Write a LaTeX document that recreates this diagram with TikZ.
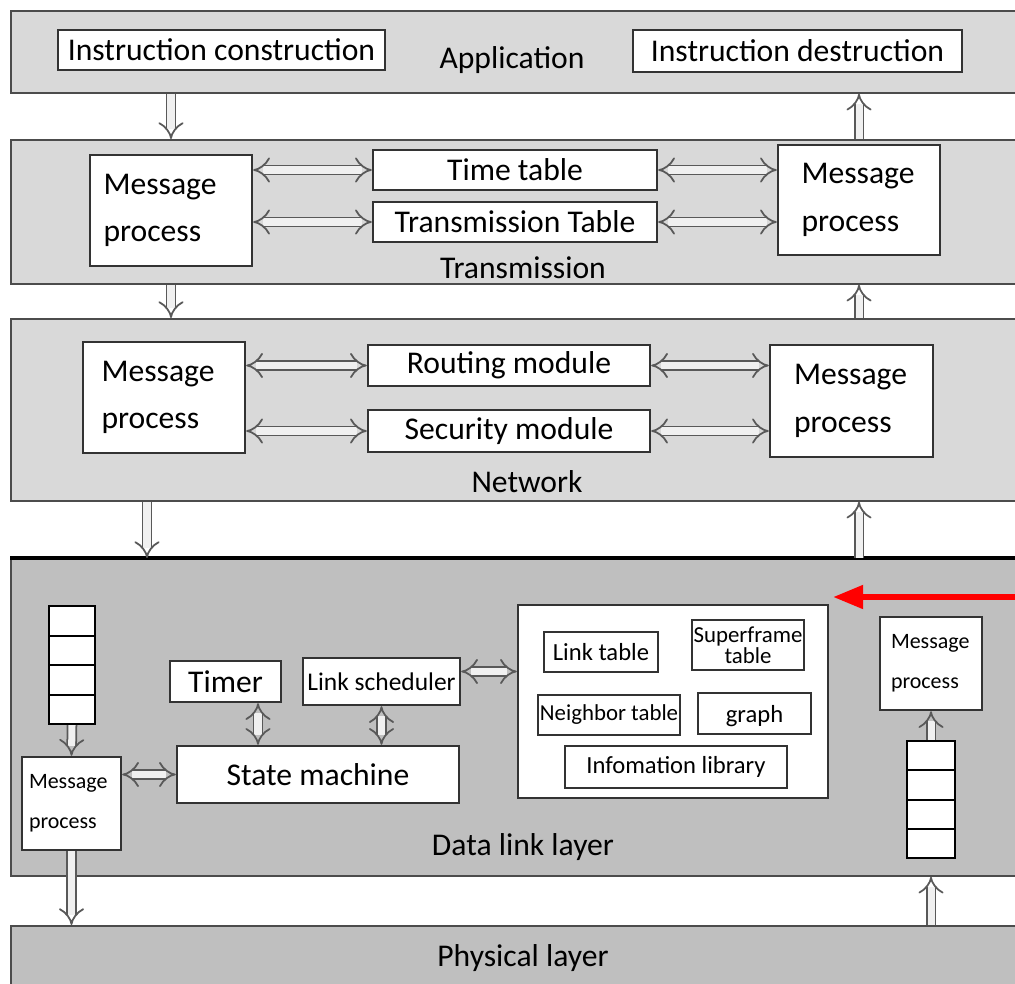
\documentclass[tikz,border=0pt]{standalone}
\usepackage{fontspec}
\setmainfont{Carlito}
\usetikzlibrary{arrows.meta,positioning}

\begin{document}
\begin{tikzpicture}
  [layer/.style={rectangle, draw=black!70, line width=1pt, fill=black!15,
    anchor=north west, inner sep=0pt, minimum width=20.5cm},
  lowlayer/.style={layer, fill=black!25},
  module/.style={rectangle, draw=black!80, line width=1.4pt, fill=white,
    inner sep=1pt, font=\fontsize{18}{21}\selectfont},
  proc/.style={module, align=left, text width=2.7cm, font=\fontsize{18}{27}\selectfont},
  smallproc/.style={module, align=left, text width=1.7cm, font=\fontsize{12.5}{23}\selectfont},
  table/.style={module, line width=1.2pt, font=\fontsize{14}{15}\selectfont},
  cell/.style={rectangle, draw=black, line width=1.2pt, fill=white,
    minimum width=0.92cm, minimum height=0.59cm, inner sep=0pt},
  title/.style={font=\fontsize{18}{21}\selectfont},
  flow/.style={draw=black!65, double=black!6, double distance=4pt,
    line width=1pt, -{Implies[scale=1.15]}},
  both/.style={flow, {Implies[scale=1.15]}-{Implies[scale=1.15]}}]

  \useasboundingbox (0,0) rectangle (20.3,-19.66);

  % layers
  \node[layer, minimum height=1.64cm] (app) at (0.2,-0.2) {};
  \node[layer, minimum height=2.88cm] (trans) at (0.2,-2.78) {};
  \node[layer, minimum height=3.64cm] (net) at (0.2,-6.36) {};
  \node[lowlayer, minimum height=6.34cm] (dl) at (0.2,-11.16) {};
  \node[lowlayer, minimum height=2cm] (phys) at (0.2,-18.5) {};
  \draw[line width=1.8pt] (dl.north west) -- (dl.north east);

  % application
  \node[module, minimum width=6.54cm, minimum height=0.8cm] (cons) at (4.43,-1.0) {Instruction construction};
  \node[title] (applabel) at (10.24,-1.2) {Application};
  \node[module, minimum width=6.58cm, minimum height=0.84cm] (dest) at (15.95,-1.02) {Instruction destruction};

  % transmission
  \node[proc, minimum width=3.24cm, minimum height=2.22cm] (tmsgA) at (3.42,-4.21) {Message\\process};
  \node[module, minimum width=5.68cm, minimum height=0.8cm] (timetab) at (10.3,-3.4) {Time table};
  \node[module, minimum width=5.68cm, minimum height=0.8cm] (transtab) at (10.3,-4.44) {Transmission Table};
  \node[proc, text width=2.3cm, minimum width=3.24cm, minimum height=2.2cm] (tmsgB) at (17.18,-4.0) {Message\\process};
  \node[title] (translabel) at (10.46,-5.36) {Transmission};

  \draw[both] (tmsgA.east |- timetab) -- (timetab.west);
  \draw[both] (tmsgA.east |- transtab) -- (transtab.west);
  \draw[both] (timetab.east) -- (tmsgB.west |- timetab);
  \draw[both] (transtab.east) -- (tmsgB.west |- transtab);

  % network
  \node[proc, text width=2.5cm, minimum width=3.24cm, minimum height=2.22cm] (nmsgA) at (3.28,-7.95) {Message\\process};
  \node[module, minimum width=5.64cm, minimum height=0.82cm] (routing) at (10.18,-7.31) {Routing module};
  \node[module, minimum width=5.64cm, minimum height=0.84cm] (security) at (10.18,-8.62) {Security module};
  \node[proc, text width=2.3cm, minimum width=3.26cm, minimum height=2.24cm] (nmsgB) at (17.03,-8.02) {Message\\process};
  \node[title] (netlabel) at (10.54,-9.64) {Network};

  \draw[both] (nmsgA.east |- routing) -- (routing.west);
  \draw[both] (nmsgA.east |- security) -- (security.west);
  \draw[both] (routing.east) -- (nmsgB.west |- routing);
  \draw[both] (security.east) -- (nmsgB.west |- security);

  % data link layer
  \foreach \i in {0,...,3}
    \node[cell, anchor=north] (qa\i) at (1.44,{-12.1-0.59*\i}) {};
  \node[smallproc, minimum width=1.98cm, minimum height=1.86cm] (dmsgA) at (1.43,-16.07) {Message\\process};
  \node[module, minimum width=2.22cm, minimum height=0.82cm] (timer) at (4.51,-13.63) {Timer};
  \node[module, minimum width=3.14cm, minimum height=0.94cm, font=\fontsize{14.5}{16}\selectfont] (sched) at (7.63,-13.63) {Link scheduler};
  \node[module, minimum width=5.64cm, minimum height=1.14cm] (state) at (6.36,-15.49) {State machine};

  \node[module, minimum width=6.2cm, minimum height=3.86cm] (info) at (13.46,-14.03) {};
  \node[table, minimum width=2.28cm, minimum height=0.8cm] (linktab) at (12.02,-13.04) {Link table};
  \node[table, minimum width=2.24cm, minimum height=1.0cm, align=center, font=\fontsize{13}{12}\selectfont] (superframe) at (14.96,-12.9) {Superframe\\table};
  \node[table, minimum width=2.84cm, minimum height=0.8cm, font=\fontsize{13}{15}\selectfont] (neighbor) at (12.18,-14.3) {Neighbor table};
  \node[table, minimum width=2.26cm, minimum height=0.82cm, text height=0.42cm, text depth=0.08cm] (graph) at (15.09,-14.27) {graph};
  \node[table, minimum width=4.44cm, minimum height=0.84cm] (infolib) at (13.52,-15.34) {Infomation library};

  \node[smallproc, text width=1.6cm, minimum width=2.04cm, minimum height=1.86cm] (dmsgB) at (18.62,-13.27) {Message\\process};
  \foreach \i in {0,...,3}
    \node[cell, anchor=north, minimum width=0.96cm, minimum height=0.585cm] (qb\i) at (18.62,{-14.8-0.585*\i}) {};
  \node[title] (dllabel) at (10.46,-16.94) {Data link layer};

  \draw[flow] (qa3.south) -- (dmsgA.north);
  \draw[flow] (qb0.north) -- (dmsgB.south);
  \draw[both] (dmsgA.east |- state) -- (state.west);
  \draw[both] ([xshift=0.65cm]timer.south) -- ([xshift=0.65cm]timer.south |- state.north);
  \draw[both] (sched.south) -- (sched.south |- state.north);
  \draw[both] ([yshift=0.2cm]sched.east) -- ([yshift=0.2cm]info.west |- sched.east);

  \coordinate (redtail) at (20.4,-11.94);
  \draw[red, line width=3pt, -{Triangle[length=0.6cm, width=0.46cm]}]
    (redtail) -- ([xshift=0.08cm]redtail -| info.north east);

  % physical layer
  \node[title] (physlabel) at (10.46,-19.16) {Physical layer};

  % between layers
  \draw[flow] (tmsgA |- app.south) -- (tmsgA |- trans.north);
  \draw[flow] (tmsgB |- trans.north) -- (tmsgB |- app.south);
  \draw[flow] (tmsgA |- trans.south) -- (tmsgA |- net.north);
  \draw[flow] (tmsgB |- net.north) -- (tmsgB |- trans.south);
  \draw[flow] ([xshift=-3.4mm]nmsgA.south |- net.south) -- ([xshift=-3.4mm]nmsgA.south |- dl.north);
  \draw[flow] (tmsgB |- dl.north) -- (tmsgB |- net.south);
  \draw[flow] (dmsgA.south) -- (dmsgA |- phys.north);
  \draw[flow] (qb3 |- phys.north) -- (qb3 |- dl.south);
\end{tikzpicture}
\end{document}
